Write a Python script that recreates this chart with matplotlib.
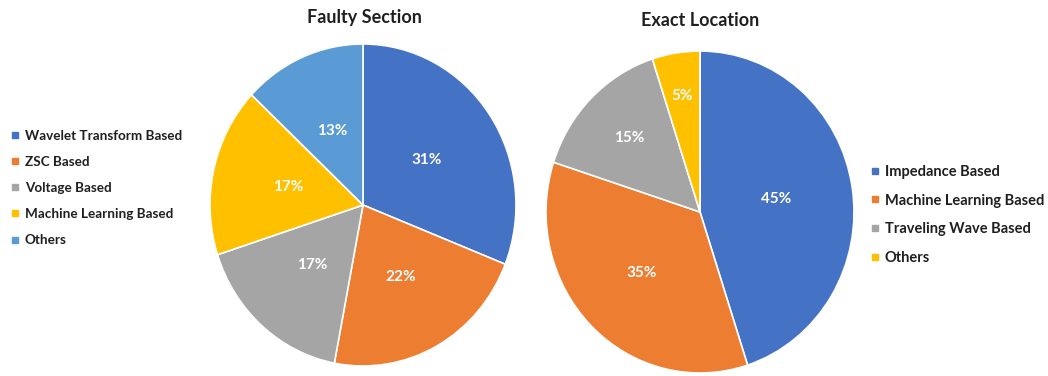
import matplotlib
matplotlib.use("Agg")
import numpy as np
import matplotlib.pyplot as plt
from matplotlib.lines import Line2D

plt.rcParams['font.family'] = ['Lato', 'DejaVu Sans']

# Faulty section identification methods
fs_labels = ["Wavelet Transform Based", "ZSC Based", "Voltage Based",
             "Machine Learning Based", "Others"]
fs_values = [31, 22, 17, 17, 13]
fs_colors = ["#4472C4", "#ED7D31", "#A5A5A5", "#FFC000", "#5B9BD5"]

# Exact fault location methods
el_labels = ["Impedance Based", "Machine Learning Based",
             "Traveling Wave Based", "Others"]
el_values = [45, 35, 15, 5]
el_colors = ["#4472C4", "#ED7D31", "#A5A5A5", "#FFC000"]

W, H = 1048, 376
fig = plt.figure(figsize=(W / 100, H / 100), dpi=100)


def px_axes(cx, cy, rx, ry):
    return fig.add_axes([(cx - rx) / W, (H - cy - ry) / H, 2 * rx / W, 2 * ry / H])


def draw_pie(ax, values, colors, label_radii):
    wedges, _, pcts = ax.pie(
        values, colors=colors, startangle=90, counterclock=False,
        autopct=lambda p: f"{p:.0f}%",
        wedgeprops=dict(edgecolor="white", linewidth=1.2),
        textprops=dict(color="white", fontsize=11, fontweight="bold"))
    # push labels of thin slices further out
    for w, t, r in zip(wedges, pcts, label_radii):
        a = np.deg2rad(0.5 * (w.theta1 + w.theta2))
        t.set_position((r * np.cos(a), r * np.sin(a)))
    ax.set_aspect("auto")
    ax.set_xlim(-1.0, 1.0)
    ax.set_ylim(-1.0, 1.0)
    ax.axis("off")


ax1 = px_axes(363, 205, 153, 161)
draw_pie(ax1, fs_values, fs_colors, [0.5, 0.51, 0.5, 0.5, 0.5])
ax2 = px_axes(700, 212, 154, 161)
draw_pie(ax2, el_values, el_colors, [0.5, 0.54, 0.65, 0.73])

fig.text(364 / W, 1 - 17 / H, "Faulty Section", ha="center", va="center",
         fontsize=13, fontweight="bold", color="#1f1f1f")
fig.text(700 / W, 1 - 21 / H, "Exact Location", ha="center", va="center",
         fontsize=13, fontweight="bold", color="#1f1f1f")


def handles(colors, labels):
    return [Line2D([], [], linestyle="none", marker="s", markersize=4.5,
                   markerfacecolor=c, markeredgecolor=c, label=l)
            for c, l in zip(colors, labels)]


fig.legend(handles=handles(fs_colors, fs_labels), loc="center left",
           bbox_to_anchor=(-1 / W, 1 - 188 / H), frameon=False,
           prop=dict(size=9.7, weight="bold"), labelcolor="#1f1f1f",
           handlelength=0.6, handletextpad=0.4, labelspacing=1.05)
fig.legend(handles=handles(el_colors, el_labels), loc="center left",
           bbox_to_anchor=(857 / W, 1 - 215 / H), frameon=False,
           prop=dict(size=10.5, weight="bold"), labelcolor="#1f1f1f",
           handlelength=0.6, handletextpad=0.4, labelspacing=1.02)

fig.savefig("out.png", dpi=100)
